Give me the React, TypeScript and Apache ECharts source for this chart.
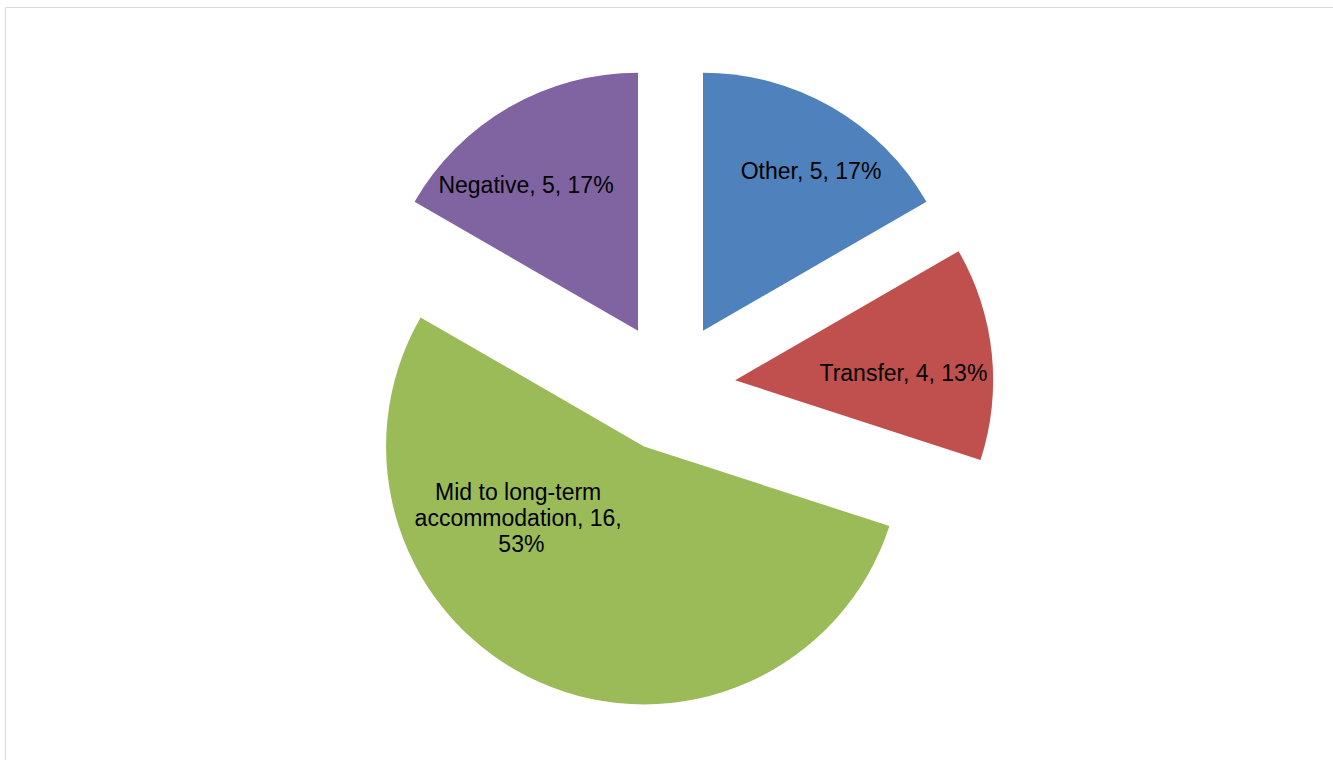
import React, { useEffect, useRef } from "react";
import * as echarts from "echarts";

const categories = ["Other", "Transfer", "Mid to long-term accommodation", "Negative"];
const values = [5, 4, 16, 5];
const colors = ["#4F81BD", "#C0504D", "#9BBB59", "#8064A2"];
// label nudges (px) relative to ECharts' default inside position
const labelDx = [42, 37, -69, -46];
const labelDy = [-45, 7, -49, -31];

export default function App() {
  const ref = useRef<HTMLDivElement>(null);
  useEffect(() => {
    if (!ref.current) return;
    const chart = echarts.init(ref.current, null, { renderer: "svg" });
    chart.setOption({
      animation: false,
      backgroundColor: "#ffffff",
      graphic: [
        {
          type: "rect",
          shape: { x: 5.5, y: 7.5, width: 1340, height: 760 },
          style: { fill: "none", stroke: "#d9d9d9", lineWidth: 1 },
          silent: true,
        },
      ],
      series: [
        {
          type: "pie",
          center: [670.5, 387],
          radius: [0, 258],
          startAngle: 90,
          clockwise: true,
          percentPrecision: 0,
          selectedMode: "multiple",
          selectedOffset: 65,
          avoidLabelOverlap: false,
          itemStyle: { borderWidth: 0 },
          label: {
            show: true,
            position: "inside",
            color: "#000000",
            fontFamily: "Liberation Sans, Arial, sans-serif",
            fontSize: 23,
            lineHeight: 26,
            align: "center",
            formatter: (p: any) => `${p.name}, ${p.value}, ${p.percent}%`,
          },
          labelLine: { show: false },
          labelLayout: (p: any) => ({ dx: labelDx[p.dataIndex], dy: labelDy[p.dataIndex] }),
          emphasis: { disabled: true },
          data: categories.map((name, i) => ({
            name,
            value: values[i],
            selected: true,
            itemStyle: { color: colors[i] },
            select: { itemStyle: { color: colors[i], borderWidth: 0 } },
            label: i === 2 ? { width: 215, overflow: "break" } : undefined,
          })),
        },
      ],
    });
    return () => chart.dispose();
  }, []);
  return (
    <div
      ref={ref}
      style={{ position: "absolute", left: 0, top: 0, width: 1333, height: 760 }}
    />
  );
}
